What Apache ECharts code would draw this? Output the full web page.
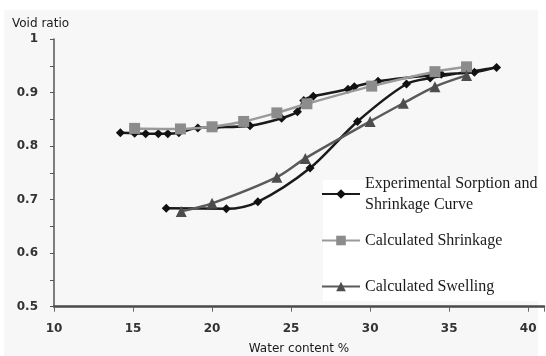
<!DOCTYPE html>
<html>
<head>
<meta charset="utf-8">
<script src="https://cdn.jsdelivr.net/npm/echarts@6/dist/echarts.min.js"></script>
<style>html,body{margin:0;padding:0;background:#fff;}#c{width:546px;height:356px;}</style>
</head>
<body>
<div id="c"></div>
<script>
// Experimental sorption (wetting, lower branch) then shrinkage (drying, upper branch)
const expX = [17.1, 20.9, 22.9, 26.2, 29.2, 32.3, 33.8, 38.0, 36.6, 34.5, 30.5, 29.0, 28.6, 26.4, 25.8, 25.4, 24.4, 22.4, 20.2, 19.1, 17.9, 17.2, 16.6, 15.8, 15.1, 14.2];
const expY = [0.684, 0.683, 0.696, 0.759, 0.846, 0.916, 0.927, 0.947, 0.938, 0.934, 0.921, 0.911, 0.906, 0.893, 0.885, 0.864, 0.852, 0.838, 0.835, 0.834, 0.825, 0.823, 0.823, 0.823, 0.824, 0.825];
const shrinkX = [15.1, 18.0, 20.0, 22.0, 24.1, 26.0, 30.1, 34.1, 36.1];
const shrinkY = [0.833, 0.832, 0.836, 0.846, 0.862, 0.879, 0.912, 0.939, 0.948];
const swellX = [18.05, 20.0, 24.1, 25.9, 30.0, 32.1, 34.1, 36.1];
const swellY = [0.678, 0.693, 0.742, 0.777, 0.846, 0.880, 0.911, 0.932];
const seriesNames = ['Experimental Sorption and Shrinkage Curve', 'Calculated Shrinkage', 'Calculated Swelling'];
const xTickLabels = [10, 15, 20, 25, 30, 35, 40];
const yTickLabels = [0.5, 0.6, 0.7, 0.8, 0.9, 1];

const pairs = (xs, ys) => xs.map((x, i) => [x, ys[i]]);

const chart = echarts.init(document.getElementById('c'));
const legendText = {fontFamily: 'Liberation Serif', fontSize: 16, color: '#1a1a1a'};
chart.setOption({
  backgroundColor: '#ffffff',
  animation: false,
  grid: {left: 54, right: 2, top: 39, bottom: 49.3, containLabel: false, outerBoundsMode: 'none'},
  graphic: [
    {type: 'rect', z: -10, shape: {x: 4, y: 10, width: 534, height: 346}, style: {fill: '#f7f7f7'}},
    {type: 'rect', z: 1, shape: {x: 323, y: 180, width: 223, height: 121}, style: {fill: '#ffffff'}},
    {type: 'text', z: 5, left: 12, top: 18, style: {text: 'Void ratio', font: '12px "DejaVu Sans"', fill: '#1a1a1a'}}
  ],
  xAxis: {
    type: 'value', min: 10, max: 41, interval: 5,
    name: 'Water content %', nameLocation: 'middle', nameGap: 36,
    nameTextStyle: {fontFamily: 'DejaVu Sans', fontSize: 12, color: '#1a1a1a'},
    axisLine: {lineStyle: {color: '#4a4a4a', width: 2.5}},
    axisTick: {show: true, length: 5, lineStyle: {color: '#666', width: 1}},
    splitLine: {show: false},
    axisLabel: {
      margin: 16, fontFamily: 'DejaVu Sans', fontSize: 12, fontWeight: 'bold', color: '#333',
      formatter: v => xTickLabels.includes(v) ? String(v) : ''
    }
  },
  yAxis: {
    type: 'value', min: 0.5, max: 1, interval: 0.05,
    axisLine: {show: true, lineStyle: {color: '#555', width: 1.5}},
    axisTick: {show: true, length: 4, lineStyle: {color: '#555', width: 1}},
    splitLine: {show: false},
    axisLabel: {
      margin: 16, fontFamily: 'DejaVu Sans', fontSize: 12, fontWeight: 'bold', color: '#333',
      formatter: v => {
        const r = Math.round(v * 100) / 100;
        return yTickLabels.some(t => Math.abs(t - r) < 1e-6) ? String(r) : '';
      }
    }
  },
  legend: [
    {data: [seriesNames[0]], left: 321, top: 162.5, padding: 0, itemWidth: 38, itemHeight: 12,
     formatter: () => 'Experimental Sorption and\nShrinkage Curve',
     textStyle: Object.assign({lineHeight: 21, padding: [21, 0, 0, 0]}, legendText)},
    {data: [seriesNames[1]], left: 321, top: 230, padding: 0, itemWidth: 38, itemHeight: 12,
     textStyle: Object.assign({lineHeight: 21}, legendText)},
    {data: [seriesNames[2]], left: 321, top: 276, padding: 0, itemWidth: 38, itemHeight: 12,
     textStyle: Object.assign({lineHeight: 21}, legendText)}
  ],
  series: [
    {name: seriesNames[0], type: 'line', smooth: 0.3, data: pairs(expX, expY),
     symbol: 'diamond', symbolSize: 9, color: '#111',
     lineStyle: {color: '#1a1a1a', width: 2.5}, itemStyle: {color: '#111'}, z: 2},
    {name: seriesNames[1], type: 'line', smooth: 0.3, data: pairs(shrinkX, shrinkY),
     symbol: 'rect', symbolSize: 11, color: '#8c8c8c',
     lineStyle: {color: '#9a9a9a', width: 2.5}, itemStyle: {color: '#8c8c8c'}, z: 3},
    {name: seriesNames[2], type: 'line', smooth: 0.3, data: pairs(swellX, swellY),
     symbol: 'triangle', symbolSize: 11, color: '#4d4d4d',
     lineStyle: {color: '#5a5a5a', width: 2.5}, itemStyle: {color: '#4d4d4d'}, z: 4}
  ]
});
</script>
</body>
</html>
